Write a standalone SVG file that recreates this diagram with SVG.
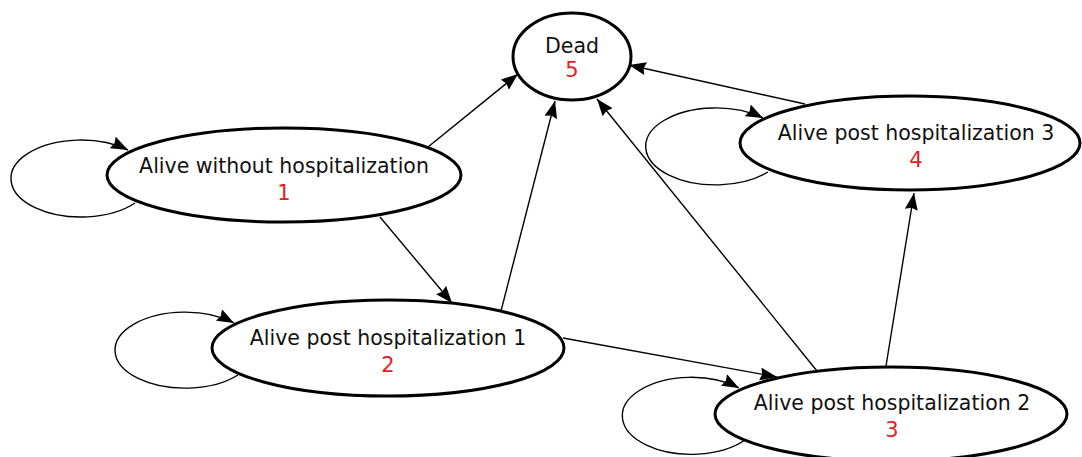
<svg xmlns="http://www.w3.org/2000/svg" width="1082" height="457" viewBox="0 0 1082 457">
<defs>
<marker id="arr" markerUnits="userSpaceOnUse" markerWidth="18" markerHeight="14" refX="17" refY="6.5" orient="auto">
<path d="M0,0 L17,6.5 L0,13 L2,6.5 z" fill="#000"/>
</marker>
<style>
.node ellipse{fill:#fff;stroke:#000;stroke-width:3}
.edge{fill:none;stroke:#000;stroke-width:1.4;marker-end:url(#arr)}
.lbl{font-family:"DejaVu Sans",Verdana,sans-serif;font-size:20.5px;fill:#111;text-anchor:middle}
.num{font-family:"DejaVu Sans",Verdana,sans-serif;font-size:21px;fill:#e31e24;text-anchor:middle}
</style>
</defs>
<rect width="1082" height="457" fill="#fff"/>
<g id="connectors">
<path class="edge" d="M135,203 A70,38.5 0 1 1 128,150"/>
<path class="edge" d="M238,375 A70,38 0 1 1 234,323"/>
<path class="edge" d="M745,440 A69,38.5 0 1 1 739,388"/>
<path class="edge" d="M768,172 A70,38.5 0 1 1 763,118"/>
<path class="edge" d="M428,147 L518,74"/>
<path class="edge" d="M380,217 L452,303"/>
<path class="edge" d="M501,311 L555,101"/>
<path class="edge" d="M817,371 L597,99"/>
<path class="edge" d="M805,104 L629,65"/>
<path class="edge" d="M563,338 L777,377"/>
<path class="edge" d="M886,366 L914,193"/>
</g>
<g id="node5" class="node">
<ellipse cx="572" cy="56.5" rx="59" ry="43.5"/>
<text class="lbl" x="572" y="53">Dead</text>
<text class="num" x="572" y="77">5</text>
</g>
<g id="node1" class="node">
<ellipse cx="284" cy="175" rx="177" ry="47"/>
<text class="lbl" x="284" y="173">Alive without hospitalization</text>
<text class="num" x="284" y="200">1</text>
</g>
<g id="node2" class="node">
<ellipse cx="388" cy="348" rx="176" ry="48"/>
<text class="lbl" x="388" y="345">Alive post hospitalization 1</text>
<text class="num" x="388" y="372">2</text>
</g>
<g id="node4" class="node">
<ellipse cx="910" cy="143" rx="170" ry="47"/>
<text class="lbl" x="916" y="140">Alive post hospitalization 3</text>
<text class="num" x="916" y="167">4</text>
</g>
<g id="node3" class="node">
<ellipse cx="891" cy="414" rx="176" ry="47"/>
<text class="lbl" x="892" y="410">Alive post hospitalization 2</text>
<text class="num" x="892" y="437">3</text>
</g>
</svg>
